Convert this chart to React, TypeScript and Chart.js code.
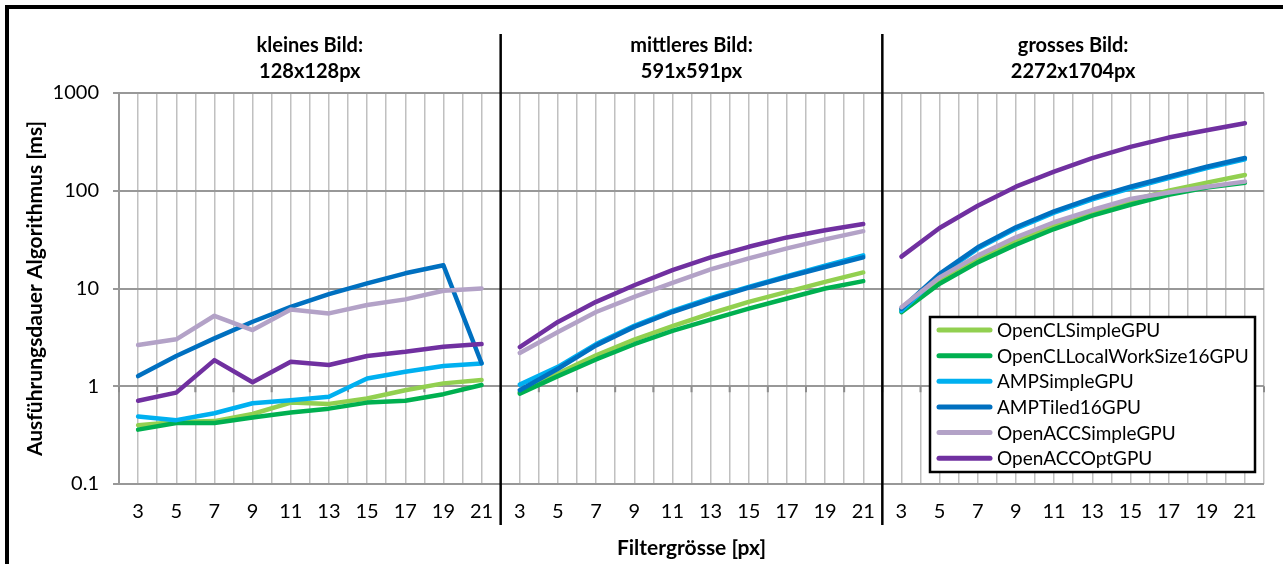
import React, { useEffect, useRef } from "react";
import { Chart, registerables } from "chart.js";

Chart.register(...registerables);

// Filter sizes (px) shown in each of the three image-size panels
const FILTER_SIZES = [3, 5, 7, 9, 11, 13, 15, 17, 19, 21];

const PANEL_TITLES = [
  ["kleines Bild:", "128x128px"],
  ["mittleres Bild:", "591x591px"],
  ["grosses Bild:", "2272x1704px"],
];

const Y_TICKS = [0.1, 1, 10, 100, 1000];

const SERIES_NAMES = [
  "OpenCLSimpleGPU",
  "OpenCLLocalWorkSize16GPU",
  "AMPSimpleGPU",
  "AMPTiled16GPU",
  "OpenACCSimpleGPU",
  "OpenACCOptGPU",
];

const SERIES_COLORS = ["#92D050", "#00B050", "#00B0F0", "#0070C0", "#B3A2C7", "#7030A0"];

// Run times in ms; each row of ten = small, medium, large image
const OPENCL_SIMPLE = [
  0.4, 0.43, 0.44, 0.52, 0.68, 0.66, 0.75, 0.91, 1.07, 1.16,
  0.87, 1.35, 2.07, 3.0, 4.11, 5.55, 7.3, 9.23, 11.7, 14.6,
  6.07, 12.1, 20.1, 30.4, 44.0, 60.1, 79.0, 100, 121, 145,
];
const OPENCL_LOCAL16 = [
  0.36, 0.42, 0.42, 0.48, 0.54, 0.59, 0.68, 0.71, 0.83, 1.03,
  0.84, 1.27, 1.88, 2.69, 3.68, 4.81, 6.23, 7.91, 10.0, 11.9,
  5.73, 11.2, 18.5, 28.1, 40.6, 55.6, 71.9, 91.0, 108, 121,
];
const AMP_SIMPLE = [
  0.49, 0.45, 0.53, 0.67, 0.72, 0.78, 1.2, 1.41, 1.61, 1.71,
  1.04, 1.58, 2.7, 4.15, 5.9, 7.95, 10.4, 13.4, 17.1, 21.8,
  5.9, 13.6, 25.6, 41.0, 59.6, 81.8, 106, 135, 171, 210,
];
const AMP_TILED16 = [
  1.27, 2.04, 3.09, 4.57, 6.5, 8.77, 11.3, 14.3, 17.3, 1.72,
  0.91, 1.51, 2.62, 4.05, 5.75, 7.76, 10.2, 13.1, 16.6, 20.8,
  6.21, 14.1, 26.4, 42.3, 61.5, 84.3, 110, 139, 176, 216,
];
const OPENACC_SIMPLE = [
  2.64, 3.02, 5.26, 3.76, 6.11, 5.56, 6.77, 7.74, 9.48, 10.0,
  2.19, 3.59, 5.75, 8.2, 11.4, 15.7, 20.3, 25.7, 31.8, 38.6,
  6.44, 13.0, 21.7, 33.4, 47.6, 63.5, 82.3, 96.1, 110, 124,
];
const OPENACC_OPT = [
  0.71, 0.86, 1.85, 1.1, 1.78, 1.65, 2.04, 2.25, 2.54, 2.7,
  2.52, 4.55, 7.3, 10.8, 15.4, 20.8, 26.7, 33.3, 39.5, 45.6,
  21.2, 41.6, 70.3, 110, 157, 216, 281, 350, 416, 491,
];

const SERIES_VALUES = [OPENCL_SIMPLE, OPENCL_LOCAL16, AMP_SIMPLE, AMP_TILED16, OPENACC_SIMPLE, OPENACC_OPT];

const FONT = "Lato, 'Open Sans', sans-serif";
const PANEL_COUNT = PANEL_TITLES.length;
const PER_PANEL = FILTER_SIZES.length;

function buildDatasets() {
  const sets: any[] = [];
  SERIES_VALUES.forEach((values, s) => {
    for (let p = 0; p < PANEL_COUNT; p++) {
      sets.push({
        label: SERIES_NAMES[s],
        data: FILTER_SIZES.map((_, i) => ({ x: p * PER_PANEL + i, y: values[p * PER_PANEL + i] })),
        borderColor: SERIES_COLORS[s],
        backgroundColor: SERIES_COLORS[s],
        order: SERIES_NAMES.length - s,
      });
    }
  });
  return sets;
}

const decorations = {
  id: "decorations",
  beforeDraw(chart: any) {
    const { ctx, width, height } = chart;
    ctx.save();
    ctx.fillStyle = "#ffffff";
    ctx.fillRect(0, 0, width, height);
    ctx.restore();
  },
  beforeDatasetsDraw(chart: any) {
    // tick marks of the category axis, which crosses the value axis at 1
    const { ctx } = chart;
    const xs = chart.scales.x;
    const y1 = chart.scales.y.getPixelForValue(1);
    ctx.save();
    ctx.strokeStyle = "#8c8c8c";
    ctx.lineWidth = 2;
    for (let k = 0; k <= PANEL_COUNT * PER_PANEL; k++) {
      const x = xs.getPixelForValue(k - 0.5);
      ctx.beginPath();
      ctx.moveTo(x, y1);
      ctx.lineTo(x, y1 + 6);
      ctx.stroke();
    }
    ctx.restore();
  },
  afterDraw(chart: any) {
    const { ctx, chartArea } = chart;
    const xs = chart.scales.x;
    ctx.save();

    // panel separators
    ctx.strokeStyle = "#000000";
    ctx.lineWidth = 2.5;
    for (let p = 1; p < PANEL_COUNT; p++) {
      const x = xs.getPixelForValue(p * PER_PANEL - 0.5);
      ctx.beginPath();
      ctx.moveTo(x, 34);
      ctx.lineTo(x, 525);
      ctx.stroke();
    }

    // panel titles
    ctx.fillStyle = "#000000";
    ctx.font = `bold 20px ${FONT}`;
    ctx.textAlign = "center";
    ctx.textBaseline = "middle";
    PANEL_TITLES.forEach((lines, p) => {
      const left = xs.getPixelForValue(p * PER_PANEL - 0.5);
      const right = xs.getPixelForValue((p + 1) * PER_PANEL - 0.5);
      const cx = (left + right) / 2;
      lines.forEach((t, i) => ctx.fillText(t, cx, 46 + i * 26));
    });

    // axis titles
    ctx.font = `bold 21px ${FONT}`;
    ctx.fillText("Filtergrösse [px]", (chartArea.left + chartArea.right) / 2, 548);
    ctx.save();
    ctx.translate(35, (chartArea.top + chartArea.bottom) / 2);
    ctx.rotate(-Math.PI / 2);
    ctx.fillText("Ausführungsdauer Algorithmus [ms]", 0, 0);
    ctx.restore();

    // legend box
    const lx = 930, ly = 317, lw = 325, lh = 155;
    ctx.fillStyle = "#ffffff";
    ctx.fillRect(lx, ly, lw, lh);
    ctx.strokeStyle = "#000000";
    ctx.lineWidth = 2.5;
    ctx.strokeRect(lx, ly, lw, lh);
    ctx.font = `19px ${FONT}`;
    ctx.textAlign = "left";
    ctx.lineCap = "round";
    SERIES_NAMES.forEach((name, i) => {
      const y = 330 + i * 25.65;
      ctx.strokeStyle = SERIES_COLORS[i];
      ctx.lineWidth = 5;
      ctx.beginPath();
      ctx.moveTo(939, y);
      ctx.lineTo(990, y);
      ctx.stroke();
      ctx.fillStyle = "#000000";
      ctx.fillText(name, 997, y + 1);
    });

    // outer frame
    ctx.strokeStyle = "#000000";
    ctx.lineWidth = 4;
    ctx.lineCap = "butt";
    ctx.beginPath();
    ctx.moveTo(7, chart.height + 10);
    ctx.lineTo(7, 7);
    ctx.lineTo(chart.width + 10, 7);
    ctx.stroke();

    ctx.restore();
  },
};

export default function App() {
  const canvasRef = useRef<HTMLCanvasElement | null>(null);

  useEffect(() => {
    document.body.style.margin = "0";
    const canvas = canvasRef.current;
    if (!canvas) return;

    const chart = new Chart(canvas, {
      type: "line",
      data: { datasets: buildDatasets() },
      options: {
        animation: false,
        responsive: false,
        devicePixelRatio: 1,
        layout: { padding: { top: 93, right: 19, bottom: 0, left: 0 } },
        plugins: { legend: { display: false }, tooltip: { enabled: false } },
        elements: {
          point: { radius: 0, hoverRadius: 0 },
          line: { borderWidth: 4.5, tension: 0, borderCapStyle: "round", borderJoinStyle: "round" },
        },
        scales: {
          x: {
            type: "linear",
            min: -0.5,
            max: PANEL_COUNT * PER_PANEL - 0.5,
            afterBuildTicks: (scale: any) => {
              const n = PANEL_COUNT * PER_PANEL * 2 + 1;
              scale.ticks = Array.from({ length: n }, (_, k) => ({ value: -0.5 + k * 0.5 }));
            },
            afterFit: (scale: any) => {
              scale.height = 80;
            },
            grid: { color: "#c0c0c0", lineWidth: 1.5, drawTicks: false },
            border: { display: false },
            ticks: {
              autoSkip: false,
              maxRotation: 0,
              minRotation: 0,
              padding: 16,
              color: "#000000",
              font: { family: FONT, size: 20 },
              callback: (value: any) => {
                const v = Number(value);
                const r = Math.round(v);
                if (Math.abs(v - r) > 1e-6) return "";
                return String(FILTER_SIZES[r % PER_PANEL]);
              },
            },
          },
          y: {
            type: "logarithmic",
            min: 0.1,
            max: 1000,
            afterBuildTicks: (scale: any) => {
              scale.ticks = Y_TICKS.map((v) => ({ value: v }));
            },
            afterFit: (scale: any) => {
              scale.width = 119;
            },
            grid: { color: "#989898", lineWidth: 2, tickLength: 6 },
            border: { color: "#989898", width: 2 },
            ticks: {
              padding: 14,
              color: "#000000",
              font: { family: FONT, size: 20 },
              callback: (value: any) => String(value),
            },
          },
        },
      },
      plugins: [decorations],
    } as any);

    let alive = true;
    if ((document as any).fonts && (document as any).fonts.ready) {
      (document as any).fonts.ready.then(() => {
        if (alive) chart.update();
      });
    }

    return () => {
      alive = false;
      chart.destroy();
    };
  }, []);

  return (
    <div style={{ width: 1283, height: 564, overflow: "hidden" }}>
      <canvas ref={canvasRef} width={1283} height={564} style={{ display: "block" }} />
    </div>
  );
}
